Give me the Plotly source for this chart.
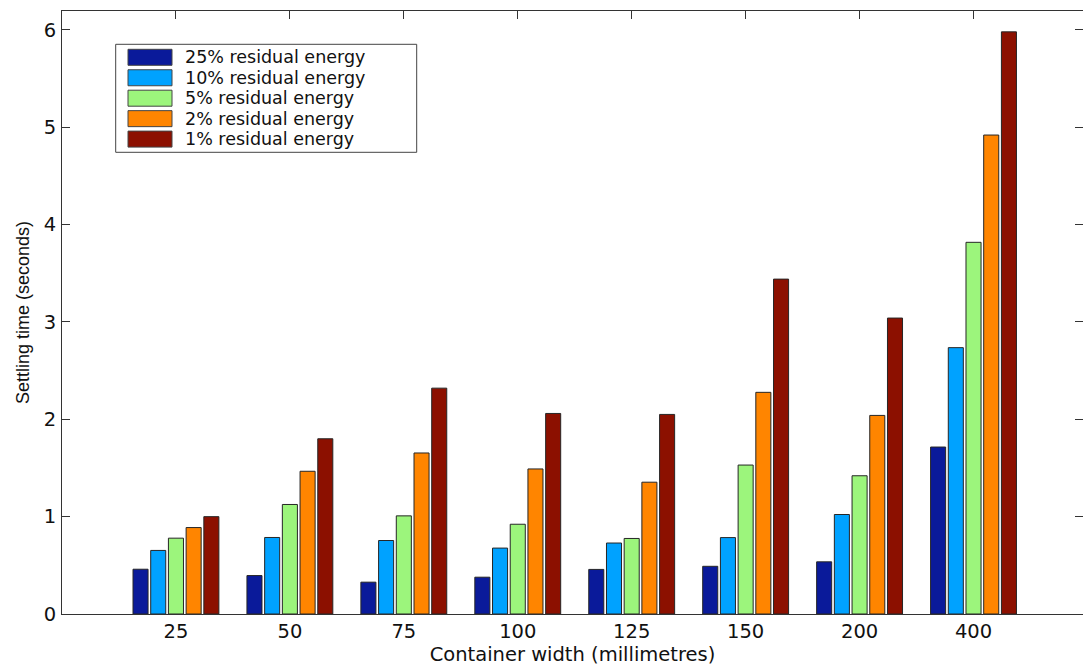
import plotly.graph_objects as go

categories = ["25", "50", "75", "100", "125", "150", "200", "400"]
series_names = ["25% residual energy", "10% residual energy", "5% residual energy",
                "2% residual energy", "1% residual energy"]
series_colors = ["#0A1A9A", "#00A2FF", "#9CF57C", "#FF8500", "#8C1000"]
res25 = [0.46, 0.395, 0.327, 0.378, 0.458, 0.49, 0.536, 1.715]
res10 = [0.653, 0.786, 0.755, 0.677, 0.729, 0.785, 1.022, 2.736]
res5 = [0.779, 1.125, 1.008, 0.922, 0.776, 1.53, 1.42, 3.818]
res2 = [0.888, 1.466, 1.654, 1.49, 1.354, 2.277, 2.04, 4.92]
res1 = [1.0, 1.80, 2.32, 2.06, 2.05, 3.44, 3.04, 5.98]
series_values = [res25, res10, res5, res2, res1]
y_ticks = [0, 1, 2, 3, 4, 5, 6]

W, H = 1083, 666
ML, MR, MT, MB = 62, 0, 11, 52
PW, PH = W - ML - MR, H - MT - MB
PX_PER_CAT = 113.94
PX_PER_UNIT = 97.35

fig = go.Figure()
for name, color, vals in zip(series_names, series_colors, series_values):
    fig.add_trace(go.Bar(
        x=categories, y=vals, name=name,
        marker=dict(color=color, line=dict(color="#262626", width=1)),
        showlegend=False,
    ))

HFONT = "DejaVu Sans"
fig.update_layout(
    width=W, height=H, autosize=False,
    margin=dict(l=ML, r=MR, t=MT, b=MB, pad=0),
    paper_bgcolor="white", plot_bgcolor="white",
    barmode="group", bargap=0.223, bargroupgap=0.15,
    font=dict(family=HFONT, size=19.5, color="#111"),
)
fig.update_xaxes(
    type="category", categoryorder="array", categoryarray=categories,
    range=[-1, -1 + PW / PX_PER_CAT],
    showline=True, linecolor="#333", linewidth=1, mirror="ticks",
    ticks="inside", ticklen=8, tickcolor="#333", layer="below traces",
    showgrid=False, zeroline=False,
    tickfont=dict(family=HFONT, size=19.5, color="#111"),
    title=dict(text="Container width (millimetres)",
               font=dict(family=HFONT, size=19.5, color="#111"), standoff=0),
)
fig.update_yaxes(
    range=[0, PH / PX_PER_UNIT], tickvals=y_ticks,
    showline=True, linecolor="#333", linewidth=1, mirror="ticks",
    ticks="inside", ticklen=8, tickcolor="#333",
    showgrid=False, zeroline=False, ticklabelstandoff=1,
    tickfont=dict(family=HFONT, size=19.5, color="#111"),
    title=dict(text="Settling time (seconds)",
               font=dict(family="Liberation Sans", size=18, color="#111"), standoff=9),
)

# Manual legend (wide swatches like the original)
def px_x(px):
    return (px - ML) / PW

def px_y(py):
    return (H - MB - py) / PH

shapes = [dict(type="rect", xref="paper", yref="paper",
               x0=px_x(115.7), x1=px_x(416.7), y0=px_y(152.3), y1=px_y(44.3),
               line=dict(color="#444", width=1), fillcolor="white", layer="above")]
annotations = []
row0, row_step = 57.3, 20.45
for i, (name, color) in enumerate(zip(series_names, series_colors)):
    cy = row0 + i * row_step
    shapes.append(dict(type="rect", xref="paper", yref="paper",
                       x0=px_x(128), x1=px_x(172), y0=px_y(cy + 8), y1=px_y(cy - 8),
                       line=dict(color="#444", width=1), fillcolor=color, layer="above"))
    annotations.append(dict(xref="paper", yref="paper", x=px_x(184), y=px_y(cy),
                            xanchor="left", yanchor="middle", showarrow=False,
                            borderpad=0,
                            text=name, font=dict(family=HFONT, size=17.5, color="#111")))
fig.update_layout(shapes=shapes, annotations=annotations)

fig.write_html("out.html")
